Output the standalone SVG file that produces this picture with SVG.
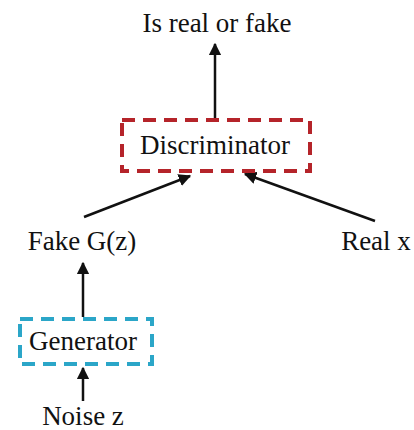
<svg xmlns="http://www.w3.org/2000/svg" width="414" height="430" viewBox="0 0 414 430">
<style>
text{font-family:"Liberation Serif","Times New Roman",serif;font-size:27px;fill:#111;text-anchor:middle}
.line{stroke:#111;stroke-width:2.5;fill:none;marker-end:url(#ah)}
.disc{fill:none;stroke:#b5242a;stroke-width:4;stroke-dasharray:13 8}
.gen{fill:none;stroke:#2ba6c8;stroke-width:4;stroke-dasharray:13 8}
</style>
<defs>
<marker id="ah" viewBox="0 0 10 10" refX="9" refY="5" markerWidth="5" markerHeight="5" orient="auto" markerUnits="strokeWidth">
<path d="M0,0 L10,5 L0,10 z" fill="#111"/>
</marker>
</defs>
<rect width="414" height="430" fill="#fff"/>
<g id="connectors">
<line class="line" x1="215" y1="118" x2="215" y2="44"/>
<line class="line" x1="84" y1="217" x2="190" y2="176"/>
<line class="line" x1="375" y1="221" x2="245" y2="174"/>
<line class="line" x1="83" y1="317" x2="83" y2="263"/>
<line class="line" x1="83" y1="401" x2="83" y2="368"/>
</g>
<g id="output"><text x="217" y="32">Is real or fake</text></g>
<g id="discriminator">
<rect class="disc" x="122" y="120" width="188" height="51"/>
<text x="215" y="154">Discriminator</text>
</g>
<g id="fake"><text x="82" y="250">Fake G(z)</text></g>
<g id="real"><text x="376" y="250">Real x</text></g>
<g id="generator">
<rect class="gen" x="20" y="319" width="132" height="45"/>
<text x="83" y="350">Generator</text>
</g>
<g id="noise"><text x="83" y="425">Noise z</text></g>
</svg>
